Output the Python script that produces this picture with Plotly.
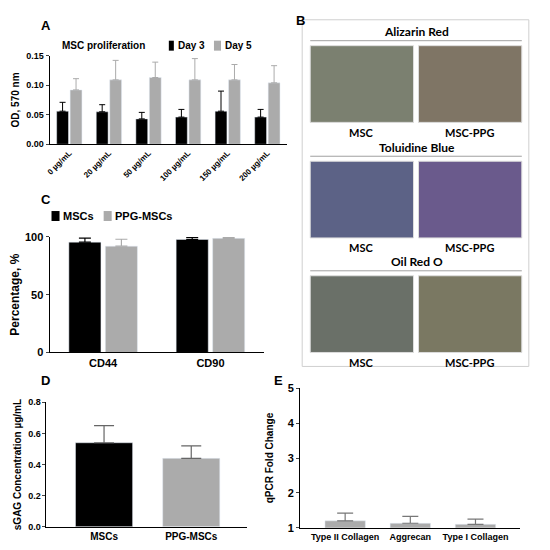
import plotly.graph_objects as go

# ---- data -------------------------------------------------------------
# A: MSC proliferation (OD 570 nm)
conc_labels = ["0 µg/mL", "20 µg/mL", "50 µg/mL", "100 µg/mL", "150 µg/mL", "200 µg/mL"]
day3_od = [0.056, 0.055, 0.043, 0.046, 0.056, 0.046]
day3_err = [0.015, 0.012, 0.011, 0.013, 0.034, 0.013]
day5_od = [0.092, 0.109, 0.113, 0.109, 0.109, 0.104]
day5_err = [0.019, 0.033, 0.026, 0.036, 0.026, 0.029]

# C: surface markers
markers = ["CD44", "CD90"]
msc_pct = [95.5, 97.8]
msc_pct_err = [3.5, 1.7]
ppg_pct = [92.0, 98.8]
ppg_pct_err = [6.0, 1.0]

# D: sGAG
gag_groups = ["MSCs", "PPG-MSCs"]
gag_values = [0.54, 0.44]
gag_err = [0.11, 0.08]

# E: qPCR
genes = ["Type II Collagen", "Aggrecan", "Type I Collagen"]
fold_change = [1.2, 1.13, 1.1]
fold_err = [0.22, 0.2, 0.15]

# B: staining panels (titles, sample labels)
stains = ["Alizarin Red", "Toluidine Blue", "Oil Red O"]
samples = ["MSC", "MSC-PPG"]

BLACK = "#000000"
GREY = "#ababab"
FONT = "Liberation Sans"
W = H = 550


# map positions measured on the target image to paper coordinates
def px(x):
    return ((x - 10.6) / 0.99) / W


def py(y):
    return 1 - ((y - 11.2) / 0.982) / H


fig = go.Figure()

# ---- panel A ----------------------------------------------------------
fig.add_trace(go.Bar(
    x=conc_labels, y=day3_od, name="Day 3", marker_color=BLACK, showlegend=False,
    error_y=dict(type="data", array=day3_err, arrayminus=[0] * 6, symmetric=False,
                 color=BLACK, thickness=1, width=3),
    xaxis="x", yaxis="y",
))
fig.add_trace(go.Bar(
    x=conc_labels, y=day5_od, name="Day 5", marker_color=GREY, showlegend=False,
    error_y=dict(type="data", array=day5_err, arrayminus=[0] * 6, symmetric=False,
                 color=GREY, thickness=1, width=3),
    xaxis="x", yaxis="y",
))

# ---- panel C ----------------------------------------------------------
fig.add_trace(go.Bar(
    x=markers, y=msc_pct, name="MSCs", marker_color=BLACK, showlegend=False,
    error_y=dict(type="data", array=msc_pct_err, arrayminus=[0, 0], symmetric=False,
                 color=BLACK, thickness=1.2, width=6),
    xaxis="x2", yaxis="y2", cliponaxis=False,
))
fig.add_trace(go.Bar(
    x=markers, y=ppg_pct, name="PPG-MSCs", marker_color=GREY, showlegend=False,
    error_y=dict(type="data", array=ppg_pct_err, arrayminus=[0, 0], symmetric=False,
                 color=GREY, thickness=1.2, width=6),
    xaxis="x2", yaxis="y2", cliponaxis=False,
))

# ---- panel D ----------------------------------------------------------
fig.add_trace(go.Bar(
    x=gag_groups, y=gag_values, marker_color=[BLACK, GREY], showlegend=False,
    error_y=dict(type="data", array=gag_err, arrayminus=[0, 0], symmetric=False,
                 color="#666666", thickness=1.2, width=10),
    width=0.655, xaxis="x3", yaxis="y3",
))

# ---- panel E ----------------------------------------------------------
fig.add_trace(go.Bar(
    x=genes, y=fold_change, marker_color=GREY, showlegend=False,
    error_y=dict(type="data", array=fold_err, arrayminus=[0, 0, 0], symmetric=False,
                 color="#777777", thickness=1.2, width=8),
    width=0.62, xaxis="x4", yaxis="y4",
))


def tfont(size):
    return dict(family=FONT, size=size, color=BLACK, weight="bold")


axis_common = dict(showline=True, linecolor=BLACK, linewidth=1, showgrid=False, zeroline=False)

fig.update_layout(
    width=W, height=H,
    margin=dict(l=0, r=0, t=0, b=0),
    paper_bgcolor="white", plot_bgcolor="white",
    font=dict(family=FONT, color=BLACK),
    barmode="group", showlegend=False,
    bargap=0.32, bargroupgap=0.12,
    xaxis=dict(domain=[px(48), px(285)], anchor="y", tickangle=-45, ticks="",
               tickfont=tfont(8), **axis_common),
    yaxis=dict(domain=[py(142), py(53)], anchor="x", range=[0, 0.15], dtick=0.05,
               tickformat=".2f", ticks="outside", ticklen=3, tickfont=tfont(9),
               title=dict(text="OD, 570 nm", font=tfont(10), standoff=4), **axis_common),
    xaxis2=dict(domain=[px(48), px(262)], anchor="y2", ticks="", range=[-0.5, 1.5],
                tickfont=tfont(11), **axis_common),
    yaxis2=dict(domain=[py(351), py(235)], anchor="x2", range=[0, 100], dtick=50,
                ticks="outside", ticklen=3, tickfont=tfont(11),
                title=dict(text="Percentage, %", font=tfont(12), standoff=4), **axis_common),
    xaxis3=dict(domain=[px(45), px(245)], anchor="y3", ticks="", range=[-0.66, 1.64],
                tickfont=tfont(10), **axis_common),
    yaxis3=dict(domain=[py(526), py(401)], anchor="x3", range=[0, 0.8], dtick=0.2,
                tickformat=".1f", ticks="outside", ticklen=3, tickfont=tfont(9),
                title=dict(text="sGAG Concentration µg/mL", font=tfont(10), standoff=4),
                **axis_common),
    xaxis4=dict(domain=[px(298), px(517)], anchor="y4", ticks="", range=[-0.69, 2.68],
                tickfont=tfont(9), **axis_common),
    yaxis4=dict(domain=[py(527), py(387)], anchor="x4", range=[1, 5], dtick=1,
                ticks="outside", ticklen=3, tickfont=tfont(11),
                title=dict(text="qPCR Fold Change", font=tfont(10), standoff=12),
                **axis_common),
)


# ---- annotations: panel letters and labels ----------------------------
def label(text, x, y, size=10, xanchor="center", family=FONT):
    fig.add_annotation(text=text, x=px(x), y=py(y), xref="paper", yref="paper",
                       showarrow=False, xanchor=xanchor, yanchor="middle",
                       font=dict(family=family, size=size, color=BLACK, weight="bold"))


def rect(x0, y0, x1, y1, fill, line="rgba(0,0,0,0)", layer="above"):
    fig.add_shape(type="rect", xref="paper", yref="paper",
                  x0=px(x0), x1=px(x1), y0=py(y0), y1=py(y1),
                  line=dict(color=line, width=1), fillcolor=fill, layer=layer)


label("A", 38, 23, 13, "left")
label("B", 292, 18, 13, "left")
label("C", 38, 197, 13, "left")
label("D", 38, 379, 13, "left")
label("E", 270, 379, 13, "left")
label("MSC proliferation", 58, 43, 10, "left")

# legends (drawn as key squares + text, like the original)
rect(167, 38, 172, 48, BLACK)
label("Day 3", 174, 43, 10, "left")
rect(212, 38, 219, 48, GREY)
label("Day 5", 221, 43, 10, "left")

rect(50, 209, 58, 219, BLACK)
label("MSCs", 59, 214, 11, "left")
rect(102, 209, 110, 219, GREY)
label("PPG-MSCs", 111, 214, 11, "left")

# ---- panel B: staining image grid (placeholders) ------------------------
rect(300, 17, 526, 365, "white", "#cfcfcf", "below")

stain_fill = {
    "Alizarin Red": ["#7b8070", "#7f7565"],
    "Toluidine Blue": ["#5c6286", "#6a5a8c"],
    "Oil Red O": ["#6a7068", "#7a7862"],
}
row_top = [29, 145, 260]
for stain, top in zip(stains, row_top):
    label(stain, 414, top, 12, family="Lato")
    fig.add_shape(type="line", xref="paper", yref="paper",
                  x0=px(308), x1=px(519), y0=py(top + 9), y1=py(top + 9),
                  line=dict(color="#a0a0a0", width=1))
    for i, sample in enumerate(samples):
        x0 = 308 + i * 108
        rect(x0, top + 14, x0 + 103, top + 91, stain_fill[stain][i], "#dddddd")
        label(sample, x0 + 51, top + 101, 11, family="Lato")

fig.write_html("out.html")
